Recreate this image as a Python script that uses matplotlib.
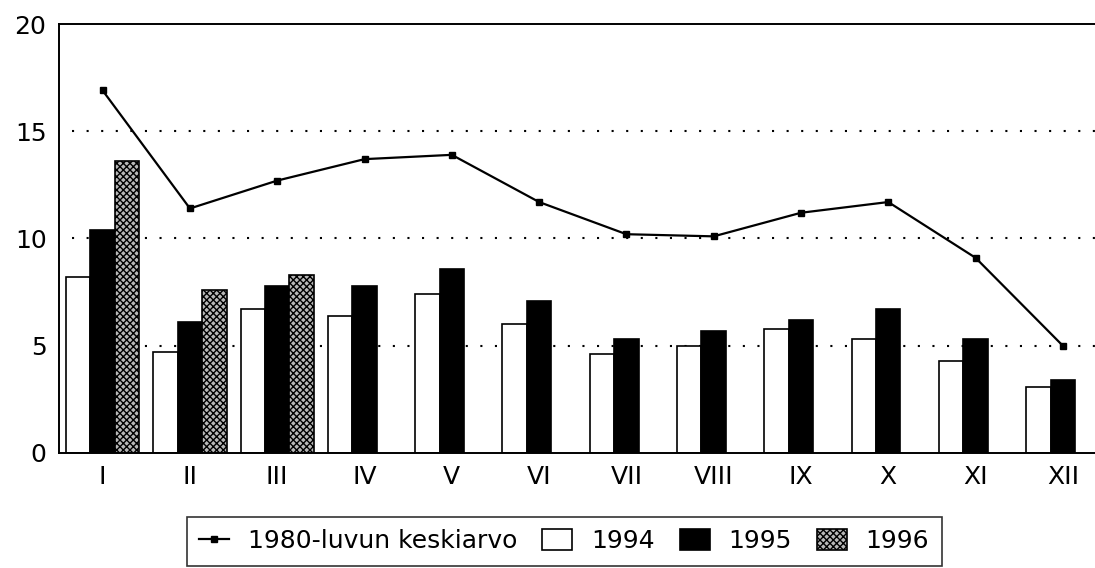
import numpy as np
import matplotlib
matplotlib.use("Agg")
import matplotlib.pyplot as plt
from matplotlib.lines import Line2D
from matplotlib.patches import Patch

months = ['I', 'II', 'III', 'IV', 'V', 'VI', 'VII', 'VIII', 'IX', 'X', 'XI', 'XII']
avg_1980s = [16.9, 11.4, 12.7, 13.7, 13.9, 11.7, 10.2, 10.1, 11.2, 11.7, 9.1, 5.0]
v1994 = [8.2, 4.7, 6.7, 6.4, 7.4, 6.0, 4.6, 5.0, 5.8, 5.3, 4.3, 3.1]
v1995 = [10.4, 6.1, 7.8, 7.8, 8.6, 7.1, 5.3, 5.7, 6.2, 6.7, 5.3, 3.4]
v1996 = [13.6, 7.6, 8.3]

labels = ['1980-luvun keskiarvo', '1994', '1995', '1996']
yticks = [0, 5, 10, 15, 20]

plt.rcParams['font.family'] = ['DejaVu Sans']
fs = 18

fig = plt.figure(figsize=(10.95, 5.68), dpi=100)
ax = fig.add_axes([59/1095, 115/568, 1047.5/1095, 429/568])

x = np.arange(len(months))
w = 0.28
ax.bar(x - w, v1994, w, color='white', edgecolor='black', linewidth=1.2, zorder=2)
ax.bar(x, v1995, w, color='black', edgecolor='black', linewidth=1.2, zorder=2)
x96 = np.arange(len(v1996))
ax.bar(x96 + w, v1996, w, color='#b8b8b8', edgecolor='black', linewidth=1.2,
       hatch='xxxxx', zorder=2)
ax.plot(x, avg_1980s, color='black', linewidth=1.6, marker='s', markersize=5,
        zorder=3)

ax.set_xlim(-0.5, 11.5)
ax.set_ylim(0, 20)
ax.set_yticks(yticks)
ax.set_xticks(x)
ax.set_xticklabels(months)
ax.tick_params(length=0, labelsize=fs, pad=9)
for yv in [5, 10, 15]:
    ax.plot([-0.35, 11.5], [yv, yv], color='black', linewidth=1.5,
            linestyle=(0, (1, 6)), zorder=1)
for s in ['left', 'bottom', 'top']:
    ax.spines[s].set_linewidth(1.4)
ax.spines['right'].set_visible(False)

handles = [
    Line2D([], [], color='black', linewidth=1.6, marker='s', markersize=5),
    Patch(facecolor='white', edgecolor='black', linewidth=1.2),
    Patch(facecolor='black', edgecolor='black', linewidth=1.2),
    Patch(facecolor='#b8b8b8', edgecolor='black', linewidth=1.2, hatch='xxxxx'),
]
leg = fig.legend(handles, labels, loc='center', bbox_to_anchor=(564/1095, 1 - 541/568),
                 ncol=4, fontsize=fs, frameon=True, fancybox=False, handlelength=1.2,
                 handleheight=0.9, handletextpad=0.75, columnspacing=1.0, borderpad=0.5,
                 borderaxespad=0)
leg.get_frame().set_edgecolor('black')
leg.get_frame().set_linewidth(1.2)

fig.savefig('out.png', dpi=100)
